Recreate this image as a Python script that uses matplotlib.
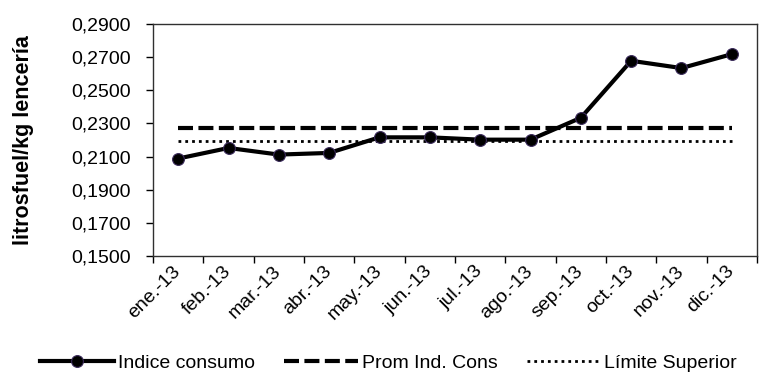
import matplotlib
matplotlib.use("Agg")
import matplotlib.pyplot as plt
import matplotlib.transforms as mtransforms
import numpy as np

plt.rcParams['font.family'] = ['Liberation Sans', 'DejaVu Sans']

months = ["ene.-13", "feb.-13", "mar.-13", "abr.-13", "may.-13", "jun.-13",
          "jul.-13", "ago.-13", "sep.-13", "oct.-13", "nov.-13", "dic.-13"]
indice_consumo = [0.2088, 0.2152, 0.2112, 0.2122, 0.2216, 0.2216,
                  0.2202, 0.2202, 0.2334, 0.2678, 0.2634, 0.2718]
prom_ind_cons = [0.2270] * 12
limite_superior = [0.2196] * 12
y_ticks = [0.15, 0.17, 0.19, 0.21, 0.23, 0.25, 0.27, 0.29]

W, H = 763, 378
fig = plt.figure(figsize=(W / 100, H / 100), dpi=100)
ax = fig.add_axes([153 / W, 1 - 256 / H, 604 / W, 232 / H])

x = np.arange(len(months))
ax.plot(x, indice_consumo, color="black", lw=3.0, marker="o", ms=8.5,
        mfc="black", mec="#3a2a5a", mew=0.8, label="Indice consumo",
        zorder=3)
ax.plot(x, prom_ind_cons, color="black", lw=3.0, ls=(0, (3.6, 1.3)),
        label="Prom Ind. Cons", zorder=2)
ax.plot(x, limite_superior, color="black", lw=2.0, ls=(0, (1, 1.45)),
        label="Límite Superior", zorder=2)

ax.set_xlim(-0.5, len(months) - 0.5)
ax.set_ylim(0.15, 0.29)
ax.set_yticks(y_ticks)
ax.set_yticklabels([f"{v:.4f}".replace(".", ",") for v in y_ticks],
                   fontsize=14)

ax.set_xticks(x)
ax.set_xticklabels(months, rotation=45, ha="right", va="center",
                   rotation_mode="anchor", fontsize=14)
# nudge the slanted month labels a little to the right
shift = mtransforms.ScaledTranslation(6 / 100, -2 / 100, fig.dpi_scale_trans)
for lbl in ax.get_xticklabels():
    lbl.set_transform(lbl.get_transform() + shift)
ax.set_xticks(np.arange(-0.5, len(months)), minor=True)
ax.tick_params(axis="x", which="major", length=0, pad=9)
ax.tick_params(axis="x", which="minor", length=5, width=1, direction="out")
ax.tick_params(axis="y", length=5, width=1, direction="out", pad=11)

for s in ax.spines.values():
    s.set_color("#303030")
    s.set_linewidth(1)

ax.set_ylabel("litrosfuel/kg lencería", fontsize=15.5, fontweight="bold")
ax.yaxis.set_label_coords((34 - 153) / 604, 0.5)

fig.legend(loc="center left", bbox_to_anchor=(40 / W, 1 - 363 / H), ncol=3,
           frameon=False, fontsize=14, handlelength=3.8,
           handletextpad=0.2, columnspacing=1.5, borderpad=0,
           borderaxespad=0)

fig.savefig("out.png", dpi=100)
